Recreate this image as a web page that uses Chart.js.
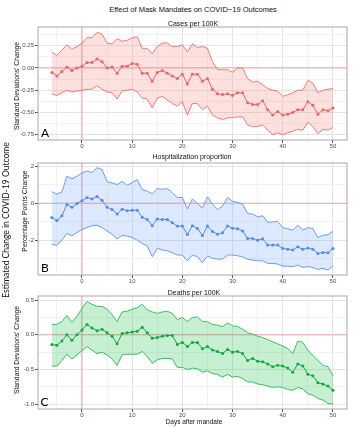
<!DOCTYPE html>
<html>
<head>
<meta charset="utf-8">
<script src="https://cdn.jsdelivr.net/npm/chart.js@4/dist/chart.umd.min.js"></script>
<style>
  body { margin: 0; background: #fff; }
  #wrap { position: relative; width: 354px; height: 427px; overflow: hidden; font-family: 'Liberation Sans', Arial, sans-serif; }
  canvas { position: absolute; left: 0; }
  .t { position: absolute; white-space: nowrap; line-height: 1; color: #111; transform: translate(-50%, -50%); }
  .v { transform: translate(-50%, -50%) rotate(-90deg); }
  .lt { position: absolute; line-height: 1; font-family: Lato, 'Open Sans', sans-serif; font-size: 12px; color: #000; transform: translateY(-50%); }
</style>
</head>
<body>
<div id="wrap">
  <canvas id="cA" width="354" height="130" style="top:22px"></canvas>
  <canvas id="cB" width="354" height="129" style="top:158px"></canvas>
  <canvas id="cC" width="354" height="130" style="top:291px"></canvas>

  <div class="t" style="left:193px;top:10px;font-size:7.5px">Effect of Mask Mandates on COVID&minus;19 Outcomes</div>
  <div class="t" style="left:193px;top:22.5px;font-size:7px">Cases per 100K</div>
  <div class="t" style="left:192px;top:155.5px;font-size:7px">Hospitalization proportion</div>
  <div class="t" style="left:194px;top:291.5px;font-size:7px">Deaths per 100K</div>
  <div class="t" style="left:194px;top:421.5px;font-size:6.5px">Days after mandate</div>

  <div class="t v" style="left:16.5px;top:86px;font-size:6.8px">Standard Deviations' Change</div>
  <div class="t v" style="left:25px;top:211px;font-size:6.8px">Percentage Points Change</div>
  <div class="t v" style="left:16.5px;top:350px;font-size:6.8px">Standard Deviations' Change</div>
  <div class="t v" style="left:6px;top:219.5px;font-size:8.5px;font-family:Lato,'Open Sans',sans-serif">Estimated Change in COVID-19 Outcome</div>

  <div class="lt" style="left:41px;top:132.5px">A</div>
  <div class="lt" style="left:41px;top:267.5px">B</div>
  <div class="lt" style="left:40.5px;top:402px">C</div>
</div>
<script>
const days = [-6,-5,-4,-3,-2,-1,0,1,2,3,4,5,6,7,8,9,10,11,12,13,14,15,16,17,18,19,20,21,22,23,24,25,26,27,28,29,30,31,32,33,34,35,36,37,38,39,40,41,42,43,44,45,46,47,48,49,50];

const casesMean = [-0.05,-0.09,-0.04,0.01,-0.03,0.00,0.02,0.06,0.06,0.10,0.07,0.00,0.01,-0.06,0.02,0.02,0.05,0.04,-0.06,-0.06,-0.15,-0.05,-0.03,-0.06,-0.09,-0.12,-0.07,-0.18,-0.07,-0.07,-0.15,-0.12,-0.24,-0.29,-0.30,-0.29,-0.31,-0.28,-0.28,-0.39,-0.41,-0.41,-0.37,-0.47,-0.53,-0.49,-0.53,-0.52,-0.50,-0.47,-0.47,-0.38,-0.42,-0.52,-0.47,-0.48,-0.45];
const casesUpper = [0.18,0.14,0.20,0.26,0.21,0.24,0.28,0.34,0.34,0.40,0.38,0.28,0.27,0.33,0.30,0.31,0.34,0.35,0.22,0.22,0.16,0.24,0.28,0.28,0.24,0.24,0.26,0.18,0.27,0.23,0.24,0.22,0.07,-0.02,-0.02,-0.02,-0.05,0.00,0.00,-0.12,-0.16,-0.15,-0.19,-0.23,-0.25,-0.26,-0.32,-0.30,-0.28,-0.25,-0.25,-0.14,-0.17,-0.28,-0.25,-0.24,-0.23];
const casesLower = [-0.29,-0.31,-0.28,-0.25,-0.27,-0.26,-0.25,-0.24,-0.24,-0.20,-0.24,-0.27,-0.28,-0.35,-0.26,-0.25,-0.24,-0.27,-0.34,-0.35,-0.45,-0.34,-0.32,-0.36,-0.40,-0.43,-0.38,-0.53,-0.40,-0.40,-0.47,-0.43,-0.53,-0.56,-0.58,-0.56,-0.56,-0.55,-0.55,-0.64,-0.66,-0.66,-0.64,-0.70,-0.75,-0.73,-0.75,-0.73,-0.71,-0.69,-0.70,-0.61,-0.66,-0.74,-0.69,-0.70,-0.67];

const hospMean = [-0.77,-0.94,-0.68,-0.07,-0.22,-0.02,0.13,0.31,0.23,0.36,0.16,-0.22,-0.34,-0.58,-0.32,-0.41,-0.38,-0.38,-0.76,-0.88,-1.22,-0.85,-0.88,-0.88,-1.06,-1.24,-1.24,-1.69,-1.22,-1.37,-1.75,-1.24,-1.53,-1.68,-1.60,-1.24,-1.35,-1.39,-1.50,-1.91,-1.91,-2.00,-1.93,-2.27,-2.27,-2.27,-2.45,-2.49,-2.54,-2.36,-2.50,-2.43,-2.49,-2.72,-2.67,-2.68,-2.45];
const hospUpper = [0.63,0.49,0.61,1.46,1.32,1.46,1.64,1.75,1.66,1.93,1.82,1.17,1.10,1.01,1.19,0.97,1.12,1.28,0.74,0.65,0.52,0.79,0.76,0.79,0.56,0.31,0.31,-0.31,0.23,-0.02,-0.27,0.34,-0.05,-0.34,-0.16,0.31,0.11,0.05,-0.05,-0.56,-0.59,-0.74,-0.68,-1.04,-1.01,-0.99,-1.32,-1.39,-1.46,-1.19,-1.46,-1.32,-1.37,-1.86,-1.73,-1.71,-1.51];
const hospLower = [-2.22,-2.29,-2.00,-1.64,-1.77,-1.59,-1.42,-1.32,-1.22,-1.19,-1.32,-1.50,-1.69,-1.93,-1.75,-1.78,-1.86,-2.00,-2.18,-2.32,-2.90,-2.45,-2.54,-2.58,-2.68,-2.81,-2.81,-3.12,-2.81,-2.90,-3.23,-2.86,-2.99,-3.03,-3.03,-2.81,-2.81,-2.85,-2.90,-3.05,-3.08,-3.12,-3.12,-3.26,-3.26,-3.30,-3.41,-3.41,-3.44,-3.35,-3.48,-3.44,-3.48,-3.59,-3.53,-3.62,-3.41];

const deathsMean = [-0.14,-0.15,-0.09,0.00,-0.08,0.00,0.07,0.15,0.10,0.06,0.08,0.03,-0.02,-0.13,0.02,0.03,0.04,0.05,0.11,0.03,-0.05,-0.04,-0.02,-0.01,-0.01,-0.14,-0.11,-0.17,-0.11,-0.11,-0.20,-0.17,-0.22,-0.24,-0.27,-0.21,-0.25,-0.24,-0.27,-0.37,-0.34,-0.38,-0.39,-0.42,-0.46,-0.44,-0.45,-0.48,-0.54,-0.42,-0.45,-0.57,-0.59,-0.69,-0.71,-0.74,-0.80];
const deathsUpper = [0.15,0.15,0.19,0.28,0.18,0.27,0.38,0.48,0.44,0.41,0.41,0.37,0.29,0.19,0.33,0.34,0.37,0.39,0.44,0.36,0.33,0.31,0.33,0.34,0.31,0.22,0.25,0.19,0.25,0.26,0.19,0.19,0.15,0.14,0.12,0.17,0.13,0.12,0.08,0.03,0.01,-0.02,-0.04,-0.07,-0.10,-0.13,-0.16,-0.20,-0.27,-0.09,-0.11,-0.22,-0.30,-0.37,-0.44,-0.46,-0.59];
const deathsLower = [-0.45,-0.45,-0.37,-0.28,-0.35,-0.29,-0.23,-0.17,-0.22,-0.27,-0.25,-0.29,-0.35,-0.44,-0.29,-0.28,-0.28,-0.28,-0.24,-0.31,-0.41,-0.36,-0.34,-0.34,-0.35,-0.47,-0.47,-0.50,-0.48,-0.49,-0.54,-0.52,-0.56,-0.57,-0.61,-0.57,-0.61,-0.60,-0.63,-0.68,-0.68,-0.71,-0.72,-0.74,-0.76,-0.75,-0.76,-0.79,-0.80,-0.76,-0.78,-0.85,-0.87,-0.92,-0.94,-0.99,-1.00];

// pink reference lines at 0 on both axes
const zeroLines = {
  id: 'zeroLines',
  beforeDatasetsDraw(chart) {
    const {ctx, chartArea: a, scales} = chart;
    const y0 = scales.y.getPixelForValue(0);
    const x0 = scales.x.getPixelForValue(0);
    ctx.save();
    ctx.strokeStyle = '#f3a5a5';
    ctx.lineWidth = 1;
    ctx.beginPath();
    ctx.moveTo(a.left, y0); ctx.lineTo(a.right, y0);
    ctx.moveTo(x0, a.top); ctx.lineTo(x0, a.bottom);
    ctx.stroke();
    ctx.restore();
  }
};
const frame = {
  id: 'frame',
  afterDraw(chart) {
    const {ctx, chartArea: a} = chart;
    ctx.save();
    ctx.strokeStyle = '#a8a8a8';
    ctx.lineWidth = 1;
    ctx.strokeRect(a.left, a.top, a.width, a.height);
    ctx.restore();
  }
};

const isMajor = (v, step) => Math.abs(v / step - Math.round(v / step)) < 1e-6;

function panel(id, o) {
  const pts = arr => days.map((d, i) => ({x: d, y: arr[i]}));
  return new Chart(document.getElementById(id), {
    type: 'line',
    data: {
      datasets: [
        {data: pts(o.upper), borderColor: o.edge, backgroundColor: o.fill, borderWidth: 1, pointRadius: 0, fill: '+1', tension: 0},
        {data: pts(o.lower), borderColor: o.edge, borderWidth: 1, pointRadius: 0, fill: false, tension: 0},
        {data: pts(o.mean), borderColor: o.color, backgroundColor: o.color, borderWidth: 1, pointRadius: 1.5, pointBorderWidth: 0, fill: false, tension: 0}
      ]
    },
    options: {
      responsive: false,
      animation: false,
      layout: {padding: {top: 5, right: 7, left: 0, bottom: 0}},
      plugins: {legend: {display: false}, tooltip: {enabled: false}},
      scales: {
        x: {
          type: 'linear', min: -8.76, max: 52.8,
          ticks: {stepSize: 5, includeBounds: false, autoSkip: false, maxRotation: 0, padding: 0,
                  font: {size: 6, family: 'Liberation Sans'}, color: '#4d4d4d',
                  callback: v => isMajor(v, 10) ? String(v) : ''},
          grid: {color: c => isMajor(c.tick.value, 10) ? '#e4e4e4' : '#f2f2f2',
                 tickColor: c => isMajor(c.tick.value, 10) ? '#555' : 'rgba(0,0,0,0)', tickLength: 3},
          border: {display: false},
          afterFit: s => { s.height = 12; }
        },
        y: {
          min: o.min, max: o.max,
          ticks: {stepSize: o.step / 2, includeBounds: false, autoSkip: false, padding: 1,
                  font: {size: 6, family: 'Liberation Sans'}, color: '#4d4d4d',
                  callback: v => isMajor(v, o.step) ? (Math.abs(v) < 1e-9 ? 0 : v).toFixed(o.dec) : ''},
          grid: {color: c => isMajor(c.tick.value, o.step) ? '#e4e4e4' : '#f2f2f2',
                 tickColor: c => isMajor(c.tick.value, o.step) ? '#555' : 'rgba(0,0,0,0)', tickLength: 3},
          border: {display: false},
          afterFit: s => { s.width = 38; }
        }
      }
    },
    plugins: [zeroLines, frame]
  });
}

panel('cA', {mean: casesMean, upper: casesUpper, lower: casesLower,
  color: '#ec5f5f', edge: '#f07a7a', fill: 'rgba(248,118,109,0.22)',
  min: -0.81, max: 0.46, step: 0.25, dec: 2});
panel('cB', {mean: hospMean, upper: hospUpper, lower: hospLower,
  color: '#4f87ee', edge: '#6c9cf0', fill: 'rgba(97,156,255,0.22)',
  min: -3.89, max: 2.18, step: 2, dec: 0});
panel('cC', {mean: deathsMean, upper: deathsUpper, lower: deathsLower,
  color: '#17a63c', edge: '#3cbf5c', fill: 'rgba(0,186,56,0.22)',
  min: -1.07, max: 0.56, step: 0.5, dec: 1});
</script>
</body>
</html>
